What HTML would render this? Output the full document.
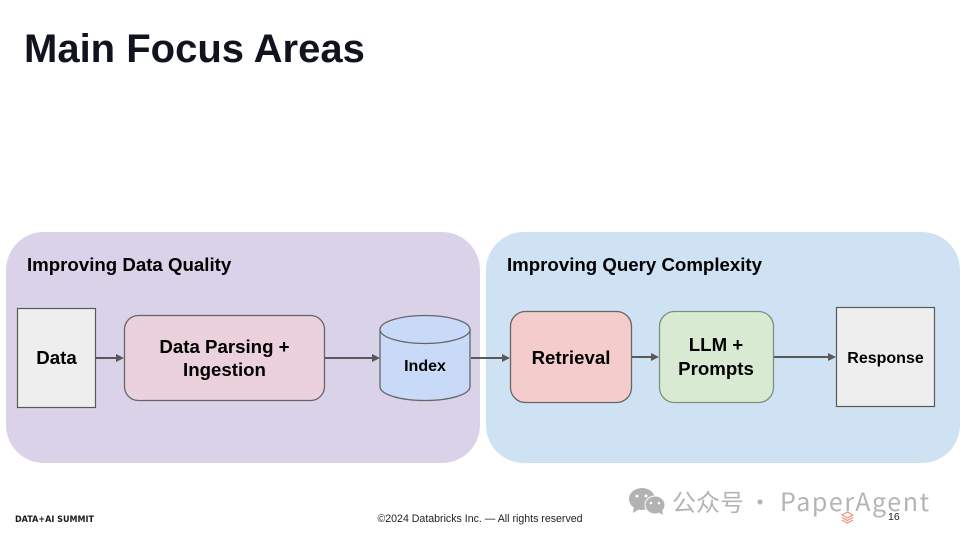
<!DOCTYPE html>
<html>
<head>
<meta charset="utf-8">
<style>
html,body{margin:0;padding:0;background:#fff;}
svg{display:block;}
text{font-family:"Liberation Sans",sans-serif;}
</style>
</head>
<body>
<svg width="960" height="540" viewBox="0 0 960 540" xmlns="http://www.w3.org/2000/svg">
<rect width="960" height="540" fill="#fff"/>
<text x="24" y="62" font-size="40" font-weight="700" fill="#11141f">Main Focus Areas</text>

<rect x="6" y="232" width="474" height="231" rx="38" fill="#d9d2e9"/>
<rect x="486" y="232" width="474" height="231" rx="38" fill="#cfe2f3"/>
<text x="27" y="271" font-size="18.670" font-weight="700" fill="#000">Improving Data Quality</text>
<text x="507" y="271" font-size="18.670" font-weight="700" fill="#000">Improving Query Complexity</text>

<rect x="17.500" y="308.500" width="78" height="99" fill="#eeeeee" stroke="#595959" stroke-width="1.200"/>
<text x="56.500" y="364" font-size="18.670" font-weight="700" text-anchor="middle">Data</text>

<rect x="124.500" y="315.500" width="200" height="85" rx="14" fill="#ead1dc" stroke="#666" stroke-width="1.300"/>
<text x="224.500" y="353" font-size="18.670" font-weight="700" text-anchor="middle">Data Parsing +</text>
<text x="224.500" y="376" font-size="18.670" font-weight="700" text-anchor="middle">Ingestion</text>

<path d="M380 329.500 V386.500 C380 394.500 400 400.500 425 400.500 C450 400.500 470 394.500 470 386.500 V329.500 Z" fill="#c9daf8" stroke="#666" stroke-width="1.300"/>
<ellipse cx="425" cy="329.500" rx="45" ry="14" fill="#c9daf8" stroke="#666" stroke-width="1.300"/>
<text x="425" y="371" font-size="16" font-weight="700" text-anchor="middle">Index</text>

<rect x="510.500" y="311.500" width="121" height="91" rx="15" fill="#f4cccc" stroke="#666" stroke-width="1.300"/>
<text x="571" y="364" font-size="18.670" font-weight="700" text-anchor="middle">Retrieval</text>

<rect x="659.500" y="311.500" width="114" height="91" rx="15" fill="#d9ead3" stroke="#7f8f7f" stroke-width="1.300"/>
<text x="716" y="351" font-size="18.670" font-weight="700" text-anchor="middle">LLM +</text>
<text x="716" y="375" font-size="18.670" font-weight="700" text-anchor="middle">Prompts</text>

<rect x="836.500" y="307.500" width="98" height="99" fill="#eeeeee" stroke="#595959" stroke-width="1.200"/>
<text x="885.500" y="363" font-size="16" font-weight="700" text-anchor="middle">Response</text>

<g stroke="#595959" stroke-width="2" fill="none">
<line x1="96" y1="358" x2="118" y2="358"/>
<line x1="325" y1="358" x2="374" y2="358"/>
<line x1="471" y1="358" x2="504" y2="358"/>
<line x1="632" y1="357" x2="653" y2="357"/>
<line x1="774" y1="357" x2="830" y2="357"/>
</g>
<g fill="#595959">
<path d="M124 358 L116 354 V362 Z"/>
<path d="M380 358 L372 354 V362 Z"/>
<path d="M510 358 L502 354 V362 Z"/>
<path d="M659 357 L651 353 V361 Z"/>
<path d="M836 357 L828 353 V361 Z"/>
</g>

<text x="15" y="522" font-size="8.500" font-weight="700" fill="#1b1b1b" textLength="79" lengthAdjust="spacingAndGlyphs" style="font-family:'DejaVu Sans',sans-serif">DATA+AI SUMMIT</text>
<text x="480" y="522" font-size="10.600" fill="#222" text-anchor="middle">©2024 Databricks Inc. — All rights reserved</text>

<g fill="#b2b2b2">
<ellipse cx="642" cy="499" rx="13" ry="11"/>
<path d="M634 506 L633 513 L641 508 Z"/>
<ellipse cx="655" cy="505" rx="10" ry="9" stroke="#fff" stroke-width="1"/>
<path d="M658 512 L663 515 L662 509 Z"/>
</g>
<g fill="#fff">
<circle cx="637" cy="496" r="1.500"/><circle cx="646" cy="496" r="1.500"/>
<circle cx="651" cy="503" r="1.300"/><circle cx="659" cy="503" r="1.300"/>
</g>
<text x="672" y="511" font-size="24" fill="#b4b4b4" style="font-family:'Noto Sans CJK SC',sans-serif">公众号</text>
<text x="748" y="511" font-size="24" fill="#b4b4b4" style="font-family:'Noto Sans CJK SC',sans-serif">·</text>
<text x="780" y="511" font-size="25" fill="#b4b4b4" textLength="149" style="font-family:'Noto Sans CJK SC',sans-serif">PaperAgent</text>

<g fill="none" stroke="#f08a7a" stroke-width="1">
<path d="M842 515 L847.500 512 L853 515 L847.500 518 Z"/>
<path d="M842 517.500 L847.500 520.500 L853 517.500"/>
<path d="M842 520 L847.500 523 L853 520"/>
</g>
<text x="888" y="520" font-size="10.500" fill="#222">16</text>
</svg>
</body>
</html>
